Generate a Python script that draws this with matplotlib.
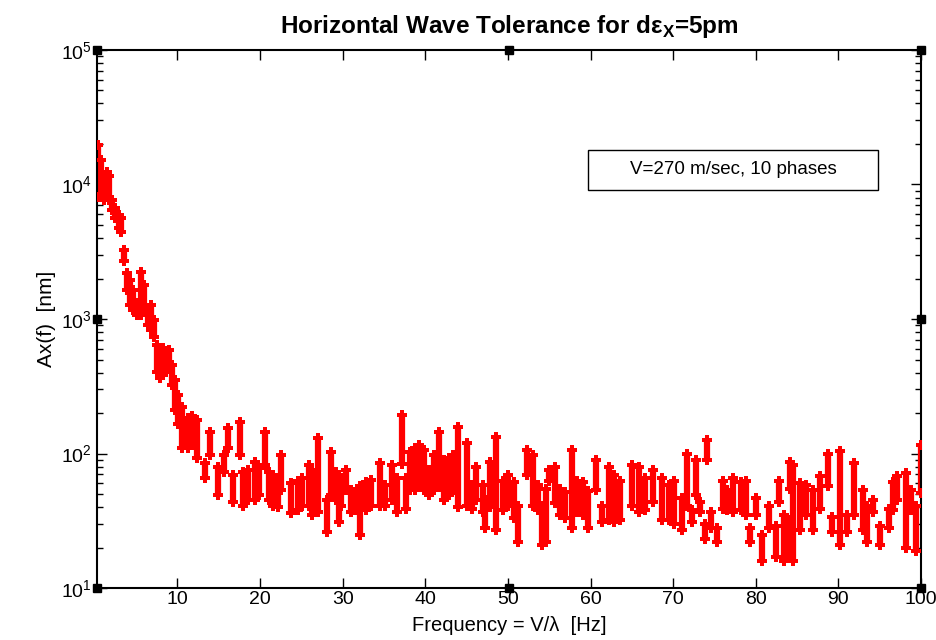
import matplotlib
matplotlib.use('Agg')
import matplotlib.pyplot as plt
from matplotlib.patches import Rectangle

plt.rcParams['font.family'] = ['Liberation Sans', 'DejaVu Sans']
plt.rcParams['mathtext.fontset'] = 'custom'
plt.rcParams['mathtext.rm'] = 'Liberation Sans'
plt.rcParams['mathtext.bf'] = 'Liberation Sans:bold'

# frequency columns [Hz] and the min / max amplitude over the 10 phases [nm]
freq = [0.40, 0.77, 1.13, 1.50, 1.74, 2.10, 2.47, 2.95, 3.20, 3.56,
        3.93, 4.29, 4.65, 5.14, 5.63, 6.00, 6.48, 6.85, 7.20, 7.57,
        7.93, 8.30, 8.66, 9.02, 9.40, 9.76, 10.1, 10.6, 11.3, 11.8,
        12.4, 13.3, 14.0, 14.9, 15.6, 16.1, 16.7, 17.6, 18.0, 18.6,
        19.4, 19.9, 20.6, 21.1, 21.6, 22.2, 22.6, 23.8, 24.6, 25.1,
        25.9, 26.3, 27.0, 28.1, 28.6, 29.2, 29.6, 29.8, 30.4, 31.0,
        31.5, 32.1, 32.8, 33.4, 34.5, 35.1, 36.0, 36.6, 37.2, 37.7,
        38.2, 38.8, 39.3, 39.8, 40.5, 41.0, 41.7, 42.3, 42.9, 43.3,
        44.0, 45.0, 45.6, 46.2, 47.0, 47.2, 47.8, 48.6, 49.4, 50.0,
        50.7, 51.2, 52.3, 53.1, 53.6, 54.1, 54.6, 55.0, 55.7, 56.3,
        56.9, 57.8, 58.4, 59.1, 59.7, 60.7, 61.4, 62.2, 62.9, 63.6,
        65.0, 65.9, 66.6, 67.6, 68.6, 69.5, 70.1, 71.1, 71.7, 72.3,
        72.8, 73.3, 73.8, 74.1, 74.6, 75.3, 76.0, 76.5, 77.2, 78.2,
        78.8, 79.3, 80.0, 80.8, 81.6, 82.4, 82.8, 83.4, 84.0, 84.2,
        84.5, 85.3, 86.1, 86.9, 87.8, 88.7, 89.2, 90.2, 91.0, 91.9,
        93.0, 93.5, 94.2, 95.0, 96.1, 96.6, 97.1, 98.2, 98.8, 99.4,
        100.0]
amp_lo = [8100, 8350, 7670, 8350, 7670, 6460, 5640, 4750, 4440, 2700,
          1640, 1270, 1170, 1072, 1072, 1170, 902, 828, 735, 404,
          364, 404, 404, 433, 323, 210, 165, 110, 110, 115,
          93, 66, 97, 49, 73, 110, 44, 97, 41, 45,
          45, 49, 82, 45, 41, 40, 54, 36, 38, 41,
          41, 35, 37, 26, 49, 45, 31, 41, 54, 37,
          38, 25, 38, 41, 41, 41, 45, 37, 83, 39,
          54, 54, 58, 54, 49, 54, 56, 45, 49, 54,
          40, 41, 39, 45, 37, 28, 40, 27, 38, 41,
          33, 22, 69, 41, 38, 21, 22, 63, 43, 35,
          33, 28, 37, 35, 28, 54, 31, 32, 31, 32,
          41, 37, 38, 44, 32, 32, 30, 27, 41, 31,
          49, 37, 23, 89, 28, 22, 39, 38, 37, 38,
          35, 22, 35, 16, 28, 17, 44, 16, 17, 55,
          16, 27, 35, 27, 39, 57, 26, 21, 26, 35,
          27, 22, 37, 21, 28, 38, 45, 20, 38, 19,
          51]
amp_hi = [19700, 15200, 11800, 12400, 11500, 7670, 6690, 5930, 5640, 3260,
          2200, 1950, 1640, 1315, 2230, 1790, 1208, 1270, 984, 641,
          589, 608, 540, 589, 455, 352, 272, 222, 184, 190,
          177, 85, 145, 80, 97, 155, 69, 171, 73, 75,
          87, 78, 145, 73, 69, 66, 97, 60, 63, 66,
          82, 75, 130, 45, 102, 73, 54, 66, 75, 54,
          52, 57, 61, 64, 85, 58, 82, 66, 193, 66,
          102, 110, 115, 106, 75, 97, 145, 89, 93, 97,
          157, 120, 58, 79, 58, 45, 87, 133, 63, 69,
          61, 41, 106, 97, 58, 41, 55, 76, 79, 55,
          52, 106, 63, 61, 53, 89, 41, 79, 69, 63,
          82, 79, 66, 75, 66, 58, 63, 47, 99, 38,
          89, 44, 30, 126, 37, 28, 63, 54, 66, 61,
          63, 28, 47, 25, 41, 29, 63, 35, 32, 87,
          82, 60, 58, 54, 68, 99, 34, 104, 35, 85,
          54, 41, 45, 29, 39, 61, 68, 72, 54, 41,
          115]

fig = plt.figure(figsize=(9.36, 6.4), dpi=100)
ax = fig.add_axes([0.1036, 0.081, 0.8804, 0.841])

ax.vlines(freq, amp_lo, amp_hi, colors='red', linewidth=4.5, zorder=2)
ax.plot(freq, amp_lo, 'P', color='red', ms=7, mew=0, zorder=3)
ax.plot(freq, amp_hi, 'P', color='red', ms=7, mew=0, zorder=3)

ax.set_yscale('log')
ax.set_xlim(0.27, 100)
ax.set_ylim(10, 1e5)
ax.set_xticks([10, 20, 30, 40, 50, 60, 70, 80, 90, 100])
ax.tick_params(which='both', direction='in', top=True, right=True, labelsize=14)
ax.tick_params(which='major', length=7, width=1)
ax.tick_params(which='minor', length=4, width=1)
ax.tick_params(axis='x', pad=2)
for s in ax.spines.values():
    s.set_linewidth(1.5)

# selection handles drawn on the axes frame
hx = [0, 0.5, 1, 0, 1, 0, 0.5, 1]
hy = [1, 1, 1, 0.5, 0.5, 0, 0, 0]
ax.plot(hx, hy, 's', color='black', ms=6, transform=ax.transAxes, clip_on=False, zorder=5)

ax.set_title('Horizontal Wave Tolerance for d\u03b5$_\\mathbf{X}$=5pm',
             fontsize=17.5, fontweight='bold', pad=12)
ax.set_xlabel('Frequency = V/\u03bb  [Hz]', fontsize=14.5)
ax.xaxis.set_label_coords(0.5, -0.052)
ax.xaxis.label.set_va('top')
ax.set_ylabel('Ax(f)  [nm]', fontsize=15, labelpad=4)

ax.add_patch(Rectangle((0.596, 0.740), 0.352, 0.074, transform=ax.transAxes,
                       facecolor='white', edgecolor='black', linewidth=1, zorder=4))
ax.text(0.772, 0.777, 'V=270 m/sec, 10 phases', transform=ax.transAxes,
        ha='center', va='center', fontsize=13.5, zorder=5)

plt.savefig('out.png', dpi=100)
